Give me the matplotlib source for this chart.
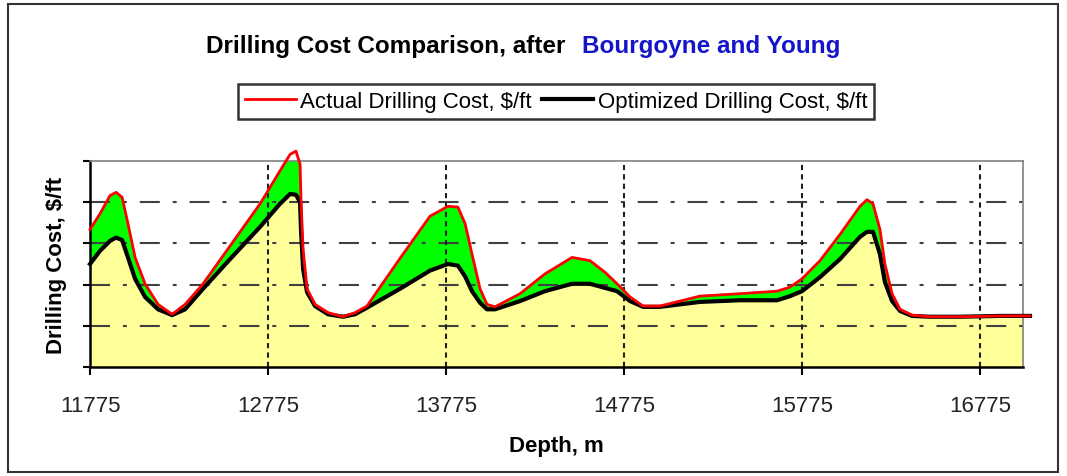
import matplotlib
matplotlib.use("Agg")
import matplotlib.pyplot as plt
from matplotlib.patches import Rectangle

plt.rcParams['font.family'] = ['Liberation Sans', 'DejaVu Sans']

# depth (m) and drilling cost ($/ft) along the well
depth_m = [11775, 11831, 11887, 11921, 11955, 11988, 12028, 12084, 12157, 12236,
           12309, 12410, 12562, 12730, 12842, 12899, 12932, 12955, 12960, 12972,
           12994, 13039, 13112, 13196, 13264, 13331, 13517, 13685, 13786, 13842,
           13882, 13921, 13966, 14005, 14050, 14191, 14331, 14483, 14584, 14668,
           14736, 14809, 14882, 14977, 15202, 15427, 15635, 15708, 15775, 15876,
           15989, 16101, 16140, 16174, 16213, 16241, 16281, 16326, 16393, 16494,
           16663, 16888, 17056]

actual_cost = [167, 186, 208, 212, 206, 174, 133, 101, 76, 64,
               76, 101, 147, 198, 238, 258, 262, 246, 204, 143,
               95, 76, 66, 61, 66, 74, 132, 183, 195, 194,
               174, 137, 95, 76, 73, 89, 113, 133, 129, 115,
               101, 85, 74, 74, 86, 89, 92, 97, 107, 129,
               161, 195, 203, 198, 167, 125, 89, 70, 63, 61,
               61, 62, 62]

optimized_cost = [125, 141, 153, 157, 154, 133, 107, 85, 70, 63,
                  70, 95, 131, 170, 198, 210, 209, 200, 167, 119,
                  91, 74, 64, 61, 64, 72, 95, 117, 125, 123,
                  110, 92, 78, 70, 70, 80, 92, 101, 101, 96,
                  92, 80, 73, 73, 79, 81, 81, 86, 92, 109,
                  131, 158, 164, 164, 137, 103, 80, 68, 62, 61,
                  61, 62, 62]

depth_ticks = [11775, 12775, 13775, 14775, 15775, 16775]
cost_ticks = [0, 50, 100, 150, 200, 250]

fig = plt.figure(figsize=(10.67, 4.77), dpi=100)
ax = fig.add_axes([0.0844, 0.2285, 0.8744, 0.4319])

# savings between the two curves, optimized cost underneath
ax.fill_between(depth_m, 0, optimized_cost, color='#FFFF99', lw=0, zorder=1)
ax.fill_between(depth_m, optimized_cost, actual_cost, color='#00FF00', lw=0, zorder=1)

ax.set_xlim(11775, 17017)
ax.set_ylim(0, 250)

for y in cost_ticks[1:-1]:
    ax.axhline(y, color='#404040', lw=1.5, ls=(0, (9.6, 6.2, 1.9, 6.2)), zorder=2)
for x in depth_ticks[1:]:
    ax.axvline(x, color='#202020', lw=1.5, ls=(0, (2.5, 2)), zorder=2)

ax.plot(depth_m, optimized_cost, color='black', lw=3, zorder=3, clip_on=False,
        solid_joinstyle='round', label='Optimized Drilling Cost, $/ft')
ax.plot(depth_m, actual_cost, color='#FF0000', lw=2, zorder=4, clip_on=False,
        solid_joinstyle='round', label='Actual Drilling Cost, $/ft')

ax.set_xticks(depth_ticks)
ax.set_yticks(cost_ticks)
ax.set_yticklabels([])
ax.tick_params(axis='x', direction='out', length=6, width=1.5, labelsize=16,
               pad=14, labelcolor='#222222')
ax.tick_params(axis='y', direction='out', length=5, width=1.5)

for side in ['left', 'bottom']:
    ax.spines[side].set_color('black')
    ax.spines[side].set_linewidth(1.8)
for side in ['top', 'right']:
    ax.spines[side].set_color('#808080')
    ax.spines[side].set_linewidth(1.2)

ax.set_xlabel('Depth, m', fontsize=16, fontweight='bold', labelpad=14)
ax.set_ylabel('Drilling Cost, $/ft', fontsize=16, fontweight='bold', labelpad=8)

# two-colour title
fig.text(565 / 1067, 1 - 53 / 477, 'Drilling Cost Comparison, after',
         ha='right', va='baseline', fontsize=17.5, fontweight='bold', color='black')
fig.text(582 / 1067, 1 - 53 / 477, 'Bourgoyne and Young',
         ha='left', va='baseline', fontsize=17.5, fontweight='bold', color='#1515C8')

handles, labels = ax.get_legend_handles_labels()
leg = fig.legend(handles[::-1], labels[::-1], loc='center',
                 bbox_to_anchor=(556 / 1067, 1 - 102.5 / 477), ncol=2,
                 fontsize=16, frameon=True, fancybox=False, handlelength=2.3,
                 handletextpad=0.2, columnspacing=0.45, borderpad=0.3)
leg.get_frame().set_edgecolor('black')
leg.get_frame().set_linewidth(1.8)

fig.patches.append(Rectangle((8 / 1067, 4 / 477), 1050 / 1067, 468 / 477,
                             transform=fig.transFigure, fill=False,
                             edgecolor='#333333', lw=1.5))

fig.savefig('out.png', dpi=100)
